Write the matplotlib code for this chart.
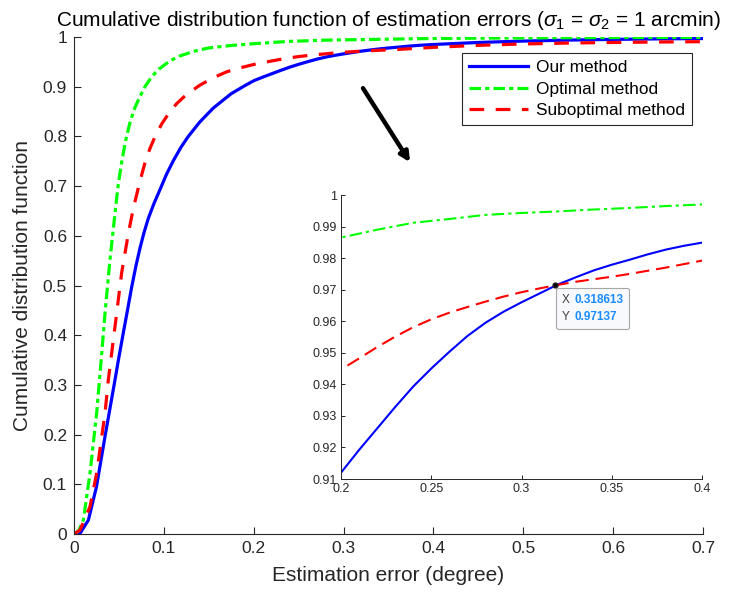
import matplotlib
matplotlib.use("Agg")
import matplotlib.pyplot as plt
from matplotlib.offsetbox import TextArea, HPacker, VPacker, AnnotationBbox

plt.rcParams['font.family'] = ['Liberation Sans', 'DejaVu Sans']
plt.rcParams['mathtext.fontset'] = 'custom'
plt.rcParams['mathtext.rm'] = 'Liberation Sans'
plt.rcParams['mathtext.it'] = 'Liberation Sans:italic'

# curves
x_ours = [0, 0.007, 0.016, 0.025, 0.0345, 0.0456, 0.05, 0.0549, 0.06, 0.0642, 0.069, 0.0734,
          0.078, 0.0827, 0.089, 0.0957, 0.103, 0.1105, 0.119, 0.1272, 0.14, 0.155, 0.175, 0.19,
          0.20, 0.21, 0.22, 0.23, 0.24, 0.25, 0.26, 0.27, 0.28, 0.29, 0.30,
          0.31, 0.32, 0.33, 0.34, 0.35, 0.36, 0.37, 0.38, 0.39, 0.40,
          0.45, 0.50, 0.55, 0.60, 0.65, 0.70]
y_ours = [0, 0.002, 0.028, 0.095, 0.196, 0.310, 0.356, 0.405, 0.455, 0.497, 0.540, 0.575,
          0.607, 0.635, 0.665, 0.693, 0.724, 0.751, 0.778, 0.800, 0.829, 0.857, 0.886, 0.902,
          0.912, 0.9192, 0.9260, 0.9328, 0.9393, 0.9450, 0.9503, 0.9553, 0.9595, 0.9630, 0.9660,
          0.9688, 0.9716, 0.9739, 0.9761, 0.9779, 0.9795, 0.9812, 0.9827, 0.9839, 0.9849,
          0.9890, 0.9918, 0.9938, 0.9952, 0.9962, 0.9969]

x_opt = [0, 0.005, 0.0104, 0.0178, 0.0252, 0.0308, 0.0345, 0.04, 0.0456, 0.049, 0.053, 0.0575,
         0.0623, 0.068, 0.0734, 0.079, 0.0846, 0.09, 0.095, 0.103, 0.11, 0.118, 0.135, 0.15, 0.175,
         0.20, 0.22, 0.24, 0.26, 0.28, 0.30, 0.32, 0.34, 0.36, 0.38, 0.40,
         0.45, 0.50, 0.55, 0.60, 0.65, 0.70]
y_opt = [0, 0.006, 0.028, 0.122, 0.243, 0.362, 0.444, 0.551, 0.645, 0.700, 0.748, 0.792,
         0.828, 0.859, 0.880, 0.900, 0.915, 0.927, 0.936, 0.947, 0.955, 0.962, 0.972, 0.978, 0.983,
         0.9865, 0.9890, 0.9912, 0.9924, 0.9937, 0.9943, 0.9948, 0.9954, 0.9959, 0.9965, 0.9970,
         0.9977, 0.9982, 0.9986, 0.9989, 0.9991, 0.9993]

x_sub = [0, 0.0067, 0.0178, 0.0252, 0.0345, 0.0382, 0.0456, 0.053, 0.0605, 0.066, 0.0734,
         0.079, 0.0846, 0.091, 0.0976, 0.106, 0.1143, 0.122, 0.129, 0.14, 0.155, 0.17, 0.185,
         0.20, 0.21, 0.22, 0.23, 0.24, 0.25, 0.26, 0.27, 0.28, 0.29, 0.30,
         0.31, 0.32, 0.33, 0.34, 0.35, 0.36, 0.37, 0.38, 0.39, 0.40,
         0.45, 0.50, 0.55, 0.60, 0.65, 0.70]
y_sub = [0, 0.008, 0.055, 0.122, 0.243, 0.310, 0.417, 0.525, 0.605, 0.655, 0.710,
         0.747, 0.776, 0.803, 0.825, 0.848, 0.866, 0.879, 0.889, 0.903, 0.918, 0.930, 0.938,
         0.9447, 0.9482, 0.9518, 0.9551, 0.9581, 0.9606, 0.9627, 0.9645, 0.9662, 0.9678, 0.9692,
         0.9704, 0.9715, 0.9725, 0.9733, 0.9741, 0.9750, 0.9760, 0.9770, 0.9781, 0.9792,
         0.9832, 0.9860, 0.9878, 0.9890, 0.9899, 0.9906]

tip_x = 0.318613
tip_y = 0.97137

main_xticks = [0, 0.1, 0.2, 0.3, 0.4, 0.5, 0.6, 0.7]
main_yticks = [0, 0.1, 0.2, 0.3, 0.4, 0.5, 0.6, 0.7, 0.8, 0.9, 1]
inset_xticks = [0.2, 0.25, 0.3, 0.35, 0.4]
inset_yticks = [0.91, 0.92, 0.93, 0.94, 0.95, 0.96, 0.97, 0.98, 0.99, 1]

dark = '#262626'
blue = '#0000ff'
green = '#00ff00'
red = '#ff0000'

fig = plt.figure(figsize=(7.3, 5.98), dpi=100)
ax = fig.add_axes([74 / 730, 64 / 598, 629 / 730, 497 / 598])
ax_in = fig.add_axes([341 / 730, 119 / 598, 361 / 730, 284 / 598])

ax.plot(x_ours, y_ours, color=blue, lw=2.3, label='Our method')
ax.plot(x_opt, y_opt, color=green, lw=2.3, ls=(0, (3.6, 1.3, 1.3, 1.3)),
        dash_capstyle='butt', label='Optimal method')
ax.plot(x_sub, y_sub, color=red, lw=2.3, ls=(0, (4.6, 3.6)),
        dash_capstyle='butt', label='Suboptimal method')

ax.set_xlim(0, 0.7)
ax.set_ylim(0, 1)
ax.set_xticks(main_xticks)
ax.set_xticklabels(['%g' % t for t in main_xticks])
ax.set_yticks(main_yticks)
ax.set_yticklabels(['%g' % t for t in main_yticks])
ax.tick_params(direction='in', length=5, width=0.8, labelsize=12.5,
               colors=dark, pad=5)
for side in ['top', 'right']:
    ax.spines[side].set_visible(False)
for side in ['left', 'bottom']:
    ax.spines[side].set_color(dark)
    ax.spines[side].set_linewidth(0.8)

ax.set_xlabel('Estimation error (degree)', fontsize=15, color=dark, labelpad=7)
ax.set_ylabel('Cumulative distribution function', fontsize=15, color=dark, labelpad=8)
ax.set_title(r'Cumulative distribution function of estimation errors ($\sigma_1$ = $\sigma_2$ = 1 arcmin)',
             fontsize=15, pad=8, color='k')

leg = ax.legend(loc='upper right', bbox_to_anchor=(692 / 730, 545 / 598),
                bbox_transform=fig.transFigure, fancybox=False, framealpha=1,
                edgecolor=dark, fontsize=12.4, handlelength=3.4, borderpad=0.4,
                labelspacing=0.38, handletextpad=0.5, borderaxespad=0)
leg.get_frame().set_linewidth(0.8)

# arrow pointing to the zoomed view
ax.annotate('', xy=(0.374, 0.748), xytext=(0.3216, 0.897),
            arrowprops=dict(arrowstyle='-|>', lw=3.2, color='k', mutation_scale=14,
                            shrinkA=0, shrinkB=0))

# inset
ax_in.plot(x_ours, y_ours, color=blue, lw=1.5)
ax_in.plot(x_opt, y_opt, color=green, lw=1.5, ls=(0, (6, 2, 1.5, 2)), dash_capstyle='butt')
ax_in.plot(x_sub, y_sub, color=red, lw=1.5, ls=(0, (6.5, 3.3)), dash_capstyle='butt')
ax_in.plot([tip_x], [tip_y], 'o', ms=3.5, mfc='k', mec='#202020', zorder=5)

ax_in.set_xlim(0.2, 0.4)
ax_in.set_ylim(0.91, 1)
ax_in.set_xticks(inset_xticks)
ax_in.set_xticklabels(['%g' % t for t in inset_xticks])
ax_in.set_yticks(inset_yticks)
ax_in.set_yticklabels(['%g' % t for t in inset_yticks])
ax_in.tick_params(direction='in', length=3, width=0.7, labelsize=9, colors=dark, pad=3)
for side in ['top', 'right']:
    ax_in.spines[side].set_visible(False)
for side in ['left', 'bottom']:
    ax_in.spines[side].set_color(dark)
    ax_in.spines[side].set_linewidth(0.7)

# data tip
row_x = HPacker(children=[TextArea('X', textprops=dict(color='#404040', size=8.5)),
                          TextArea('%g' % tip_x, textprops=dict(color='#1a8cff', size=8.5,
                                                                weight='bold'))],
                sep=3, align='baseline')
row_y = HPacker(children=[TextArea('Y', textprops=dict(color='#404040', size=8.5)),
                          TextArea('%g' % tip_y, textprops=dict(color='#1a8cff', size=8.5,
                                                                weight='bold'))],
                sep=3, align='baseline')
tip_box = VPacker(children=[row_x, row_y], sep=4, align='left')
ab = AnnotationBbox(tip_box, (tip_x, tip_y), xybox=(5, -6), xycoords='data',
                    boxcoords='offset points', box_alignment=(0, 1), frameon=True,
                    bboxprops=dict(boxstyle='round,pad=0.4,rounding_size=0.15',
                                   fc='#f8f9fd', ec='#a6a6a6', lw=0.8))
ax_in.add_artist(ab)

fig.savefig('out.png', dpi=100)
plt.close(fig)
